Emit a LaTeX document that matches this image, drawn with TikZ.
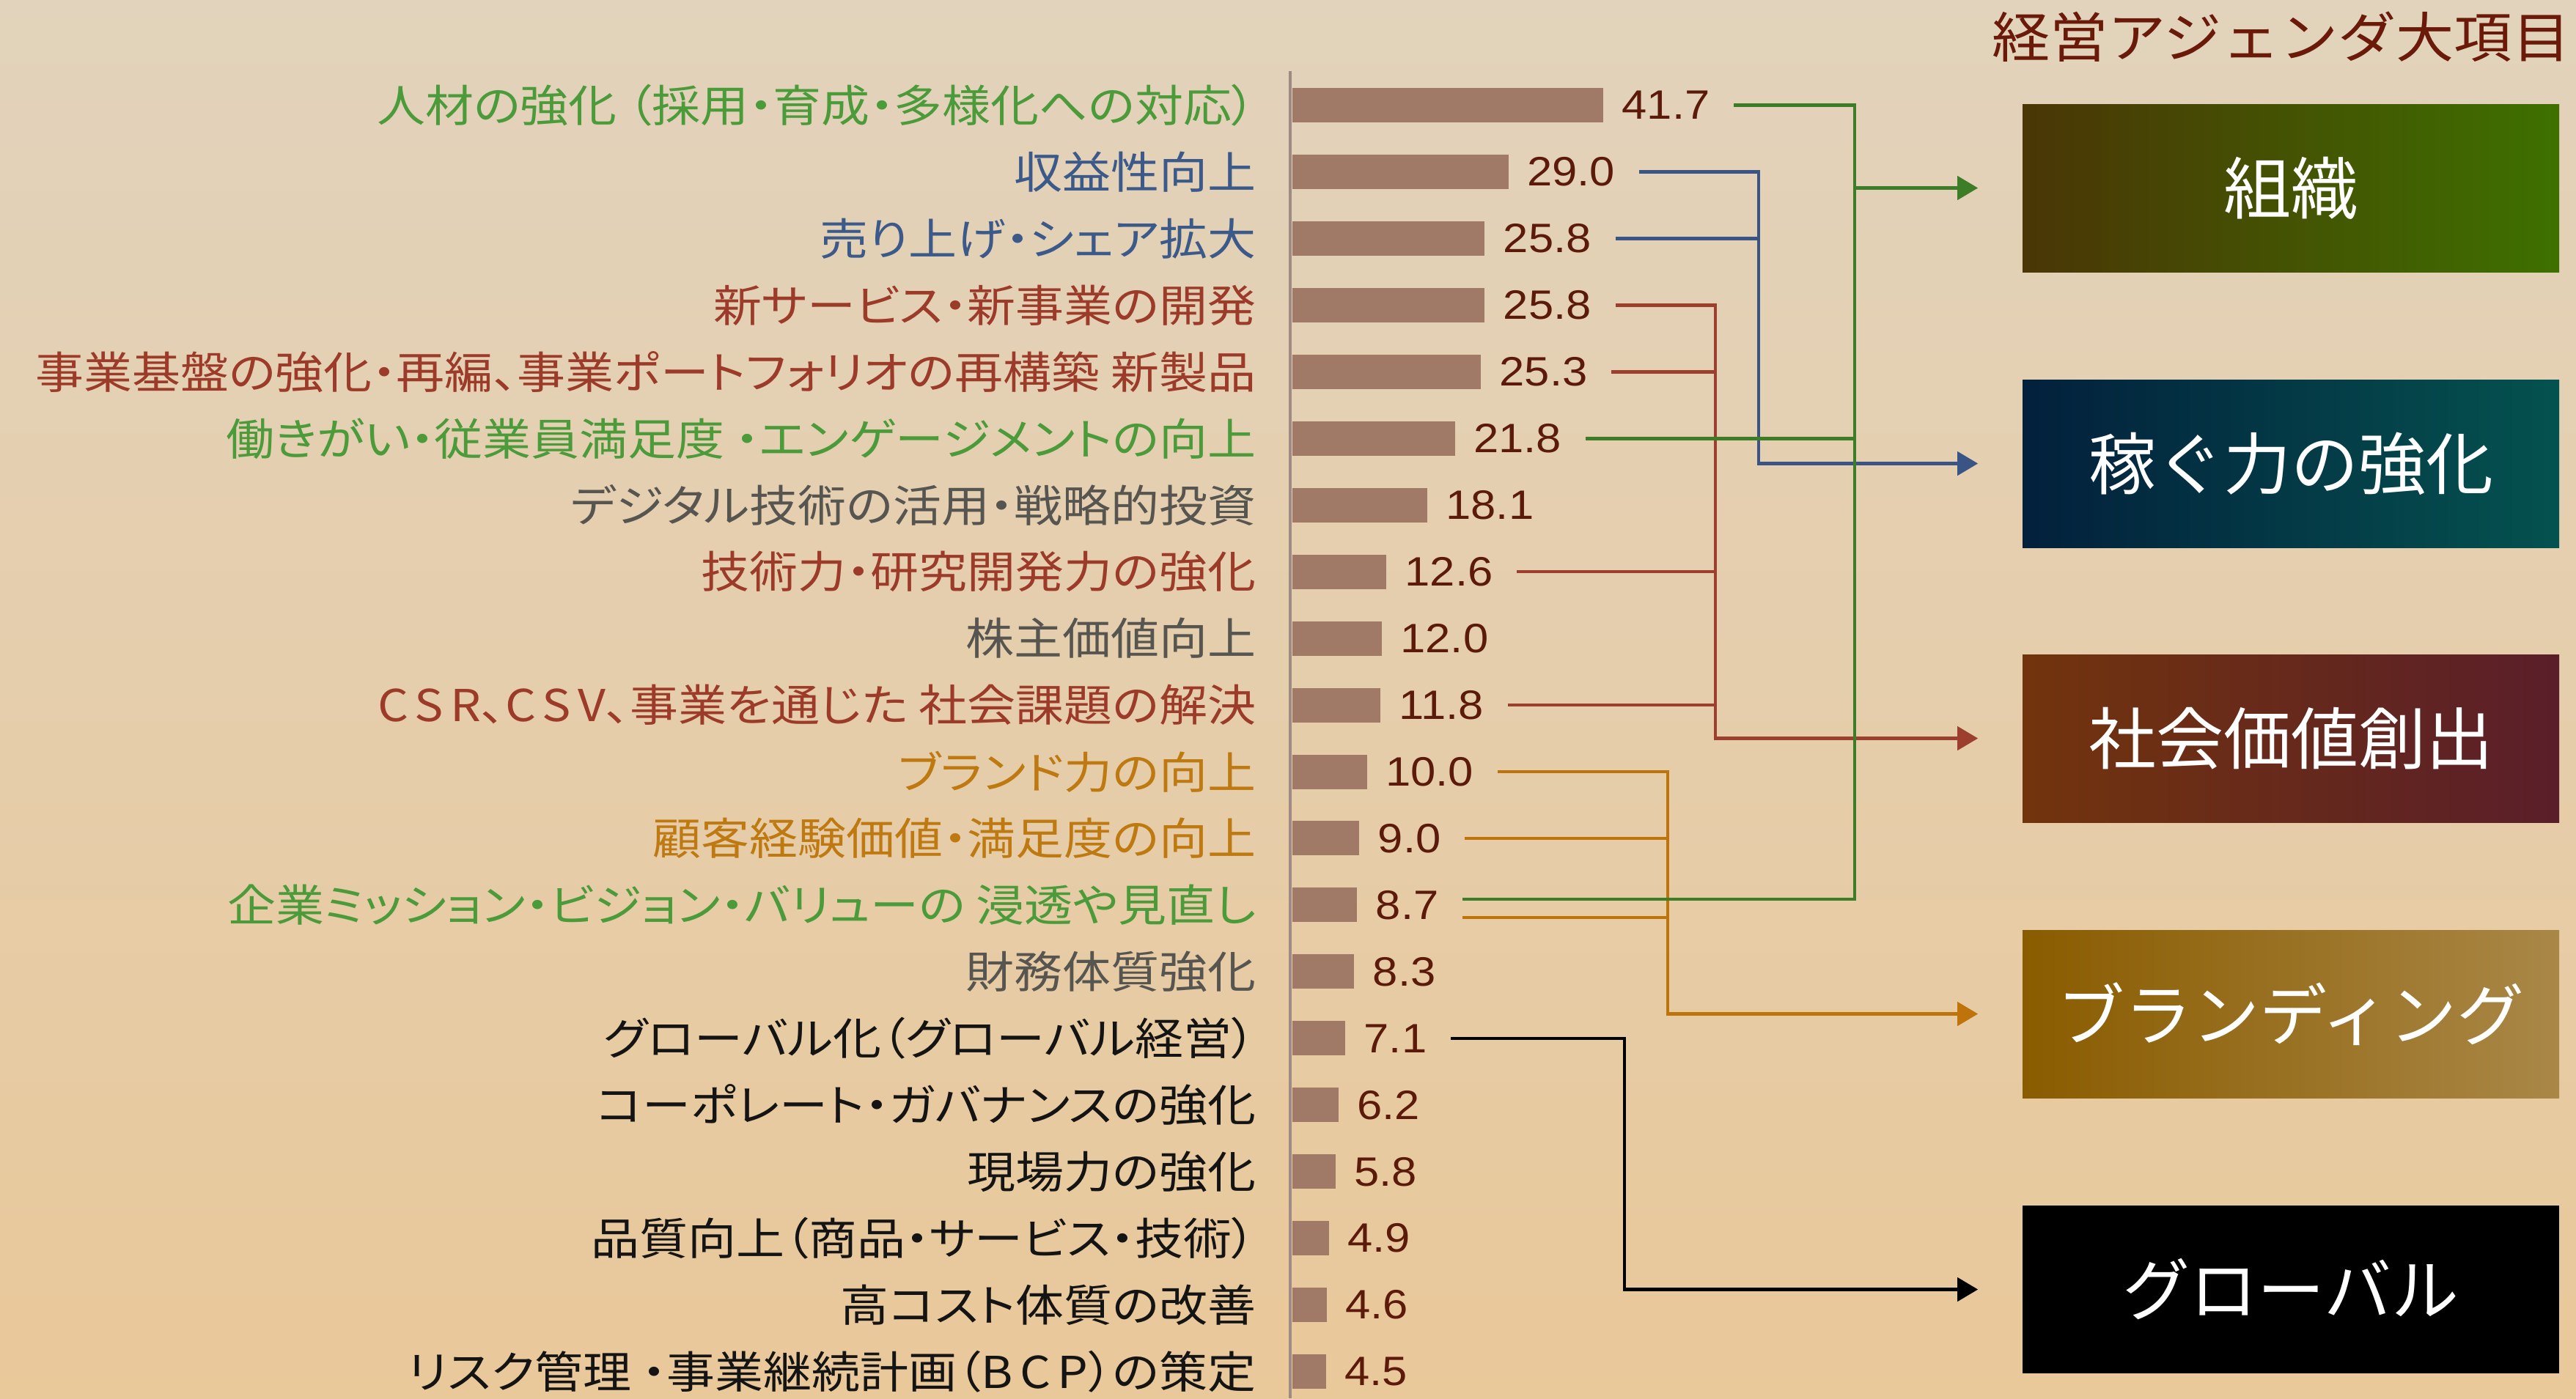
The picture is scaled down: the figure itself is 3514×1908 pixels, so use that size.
\documentclass[tikz,border=0pt]{standalone}
\usepackage{fontspec}
\setmainfont{Liberation Sans}[FakeStretch=1.1]
\newfontfamily\jp{Noto Sans CJK JP}[FakeStretch=1.1,RawFeature=+palt]
\newfontfamily\jpt{Noto Sans CJK JP}[FakeStretch=1.07]
\newfontfamily\jpb{Noto Sans CJK JP}
\usetikzlibrary{arrows.meta,calc}
\definecolor{bgtop}{HTML}{E2D3BC}
\definecolor{bgbot}{HTML}{E9C89A}
\definecolor{lgreen}{HTML}{4B9B3A}
\definecolor{lblue}{HTML}{3B5A8A}
\definecolor{lred}{HTML}{9C3B2A}
\definecolor{lgray}{HTML}{575550}
\definecolor{lorange}{HTML}{BE7A10}
\definecolor{lblack}{HTML}{141414}
\definecolor{cgreen}{HTML}{3E7D28}
\definecolor{cblue}{HTML}{3A5585}
\definecolor{cred}{HTML}{9B3F2E}
\definecolor{corange}{HTML}{BF730B}
\definecolor{barcol}{HTML}{A07A66}
\definecolor{numcol}{HTML}{5C1A0A}
\definecolor{titlecol}{HTML}{6B1A0A}
\definecolor{axiscol}{HTML}{A08A86}
\definecolor{g1}{HTML}{4A3606}
\definecolor{g2}{HTML}{3E7000}
\definecolor{k1}{HTML}{03203C}
\definecolor{k2}{HTML}{04524F}
\definecolor{s1}{HTML}{72340D}
\definecolor{s2}{HTML}{5A1E2A}
\definecolor{o1}{HTML}{8A5C00}
\definecolor{o2}{HTML}{A98747}
\newcommand\wideltr[1]{{\addfontfeature{LetterSpace=16}#1}}
\tikzset{
  lab/.style={inner sep=0pt, anchor=east, font=\jp\fontsize{15}{18}\selectfont},
  num/.style={inner sep=0pt, anchor=west, text=numcol, font=\fontsize{14}{16}\selectfont},
  barnode/.style={fill=barcol, inner sep=0pt, minimum height=11.75pt, anchor=west, draw=none},
  agbox/.style={inner sep=0pt, minimum width=183pt, minimum height=57.25pt, text=white, font=\jpb\fontsize{23}{27}\selectfont},
  conn/.style={line width=1.15pt},
  tip/.style={-{Triangle[length=7pt,width=8pt]}},
}
\begin{document}
\begin{tikzpicture}[x=0.25pt,y=-0.25pt]
\useasboundingbox (0,0) rectangle (3514,1908);
\shade[top color=bgtop, bottom color=bgbot] (0,0) rectangle (3514,1908);
% title
\node[inner sep=0pt, anchor=east, text=titlecol, font=\jpt\fontsize{18.5}{22}\selectfont] (title) at (3507,50) {経営アジェンダ大項目};
% axis
\draw[axiscol, line width=0.8pt] (1760,97) -- (1760,1908);
% rows
\foreach \v/\t/\c [count=\i] in {
41.7/人材の強化 （採用・育成・多様化への対応）/lgreen,
29.0/収益性向上/lblue,
25.8/売り上げ・シェア拡大/lblue,
25.8/新サービス・新事業の開発/lred,
25.3/事業基盤の強化・再編、事業ポートフォリオの再構築 新製品/lred,
21.8/働きがい・従業員満足度 ・エンゲージメントの向上/lgreen,
18.1/デジタル技術の活用・戦略的投資/lgray,
12.6/技術力・研究開発力の強化/lred,
12.0/株主価値向上/lgray,
11.8/{\wideltr{CSR}、\wideltr{CSV}、事業を通じた 社会課題の解決}/lred,
10.0/ブランド力の向上/lorange,
9.0/顧客経験価値・満足度の向上/lorange,
8.7/企業ミッション・ビジョン・バリューの 浸透や見直し/lgreen,
8.3/財務体質強化/lgray,
7.1/グローバル化（グローバル経営）/lblack,
6.2/コーポレート・ガバナンスの強化/lblack,
5.8/現場力の強化/lblack,
4.9/品質向上（商品・サービス・技術）/lblack,
4.6/高コスト体質の改善/lblack,
4.5/{リスク管理 ・事業継続計画（\wideltr{BCP}）の策定}/lblack}{
  \pgfmathsetmacro\yy{143.5+(\i-1)*90.95}
  \pgfmathsetmacro\ww{\v*10.17*0.25}
  \node[lab, text=\c] (l\i) at (1714,\yy) {\t};
  \node[barnode, minimum width=\ww pt] (b\i) at (1762,\yy) {};
  \node[num] (v\i) at ([xshift=6pt]b\i.east) {\v};
}
% boxes
\node[agbox, left color=g1, right color=g2] (B1) at (3125,256.5) {組織};
\node[agbox, left color=k1, right color=k2] (B2) at (3125,632.5) {稼ぐ力の強化};
\node[agbox, left color=s1, right color=s2] (B3) at (3125,1007.5) {社会価値創出};
\node[agbox, left color=o1, right color=o2] (B4) at (3125,1383.5) {ブランディング};
\node[agbox, fill=black] (B5) at (3125,1759.5) {グローバル};
% trunk coordinates
\coordinate (gT) at (2530,0);
\coordinate (bT) at (2399,0);
\coordinate (rT) at (2340,0);
\coordinate (oT) at (2275,0);
\coordinate (kT) at (2216,0);
\coordinate (gEnd) at (2530,1227);
\coordinate (oS) at ([xshift=8pt,yshift=-4.25pt]v13.east);
% black
\draw[conn, black, tip] ([xshift=8pt]v15.east) -- (v15.east -| kT) -- (B5.west -| kT) -- ([xshift=-15pt]B5.west);
% orange
\draw[conn, corange, tip] ([xshift=8pt]v11.east) -- (v11.east -| oT) -- (B4.west -| oT) -- ([xshift=-15pt]B4.west);
\draw[conn, corange] ([xshift=8pt]v12.east) -- (v12.east -| oT);
\draw[conn, corange] (oS) -- (oS -| oT);
% red
\draw[conn, cred, tip] ([xshift=8pt]v4.east) -- (v4.east -| rT) -- (B3.west -| rT) -- ([xshift=-15pt]B3.west);
\draw[conn, cred] ([xshift=8pt]v5.east) -- (v5.east -| rT);
\draw[conn, cred] ([xshift=8pt]v8.east) -- (v8.east -| rT);
\draw[conn, cred] ([xshift=8pt]v10.east) -- (v10.east -| rT);
% blue
\draw[conn, cblue, tip] ([xshift=8pt]v2.east) -- (v2.east -| bT) -- (B2.west -| bT) -- ([xshift=-15pt]B2.west);
\draw[conn, cblue] ([xshift=8pt]v3.east) -- (v3.east -| bT);
% green
\draw[conn, cgreen] ([xshift=8pt]v1.east) -- (v1.east -| gT) -- (gEnd) -- ([xshift=8pt]gEnd -| v13.east);
\draw[conn, cgreen] ([xshift=8pt]v6.east) -- (v6.east -| gT);
\draw[conn, cgreen, tip] (B1.west -| gT) -- ([xshift=-15pt]B1.west);
\end{tikzpicture}
\end{document}
